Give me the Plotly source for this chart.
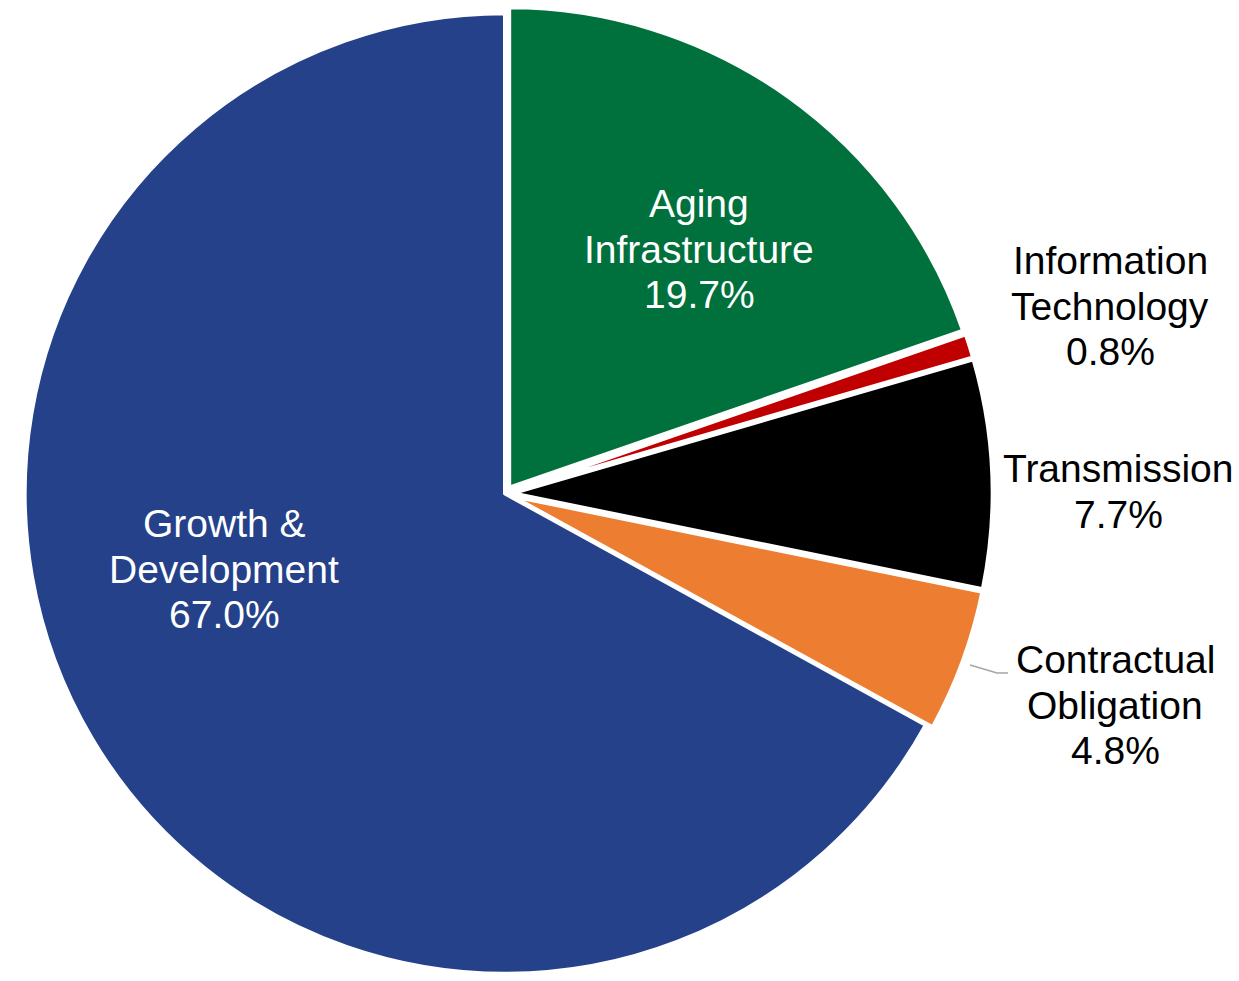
import plotly.graph_objects as go

W, H = 1239, 981

# Capital spending breakdown by category (percent of total)
categories = [
    "Aging<br>Infrastructure",
    "Information<br>Technology",
    "Transmission",
    "Contractual<br>Obligation",
    "Growth &<br>Development",
]
shares = [19.7, 0.8, 7.7, 4.8, 67.0]

colors = ["#00703C", "#C00000", "#000000", "#ED7D31", "#24418A"]
label_colors = ["#FFFFFF", "#000000", "#000000", "#000000", "#FFFFFF"]
pulls = [0.015, 0.015, 0.015, 0.015, 0]

# Label block placement (pixel centre x, middle y of first line) and line step
label_xy = [(699, 203.5), (1110, 260.5), (1118, 468.5), (1115, 659.5), (224, 523.5)]
line_step = 45.5
font_family = "Liberation Sans, Arial, sans-serif"
font_size = 39

fig = go.Figure(
    go.Pie(
        labels=categories,
        values=shares,
        sort=False,
        direction="clockwise",
        rotation=0,
        pull=pulls,
        marker=dict(colors=colors, line=dict(color="#FFFFFF", width=4)),
        textinfo="none",
        hoverinfo="label+value",
        showlegend=False,
        domain=dict(x=[0, 1010 / W], y=[0, 1 - 6 / H]),
    )
)

# Category name lines followed by the percentage line
annotations = []
for name, share, (px, py), col in zip(categories, shares, label_xy, label_colors):
    lines = name.split("<br>") + [f"{share:.1f}%"]
    for i, line in enumerate(lines):
        annotations.append(
            dict(
                x=px / W,
                y=1 - (py + i * line_step) / H,
                xref="paper",
                yref="paper",
                text=line,
                showarrow=False,
                xanchor="center",
                yanchor="middle",
                font=dict(family=font_family, size=font_size, color=col),
            )
        )

# Leader line for the small orange slice label
shapes = [
    dict(
        type="path",
        xref="paper",
        yref="paper",
        path=(
            f"M {970 / W},{1 - 665 / H} "
            f"L {997 / W},{1 - 673 / H} "
            f"L {1008 / W},{1 - 673 / H}"
        ),
        line=dict(color="#A6A6A6", width=1.5),
    )
]

fig.update_layout(
    width=W,
    height=H,
    margin=dict(l=0, r=0, t=0, b=0),
    paper_bgcolor="#FFFFFF",
    plot_bgcolor="#FFFFFF",
    annotations=annotations,
    shapes=shapes,
)

fig.write_html("out.html")
